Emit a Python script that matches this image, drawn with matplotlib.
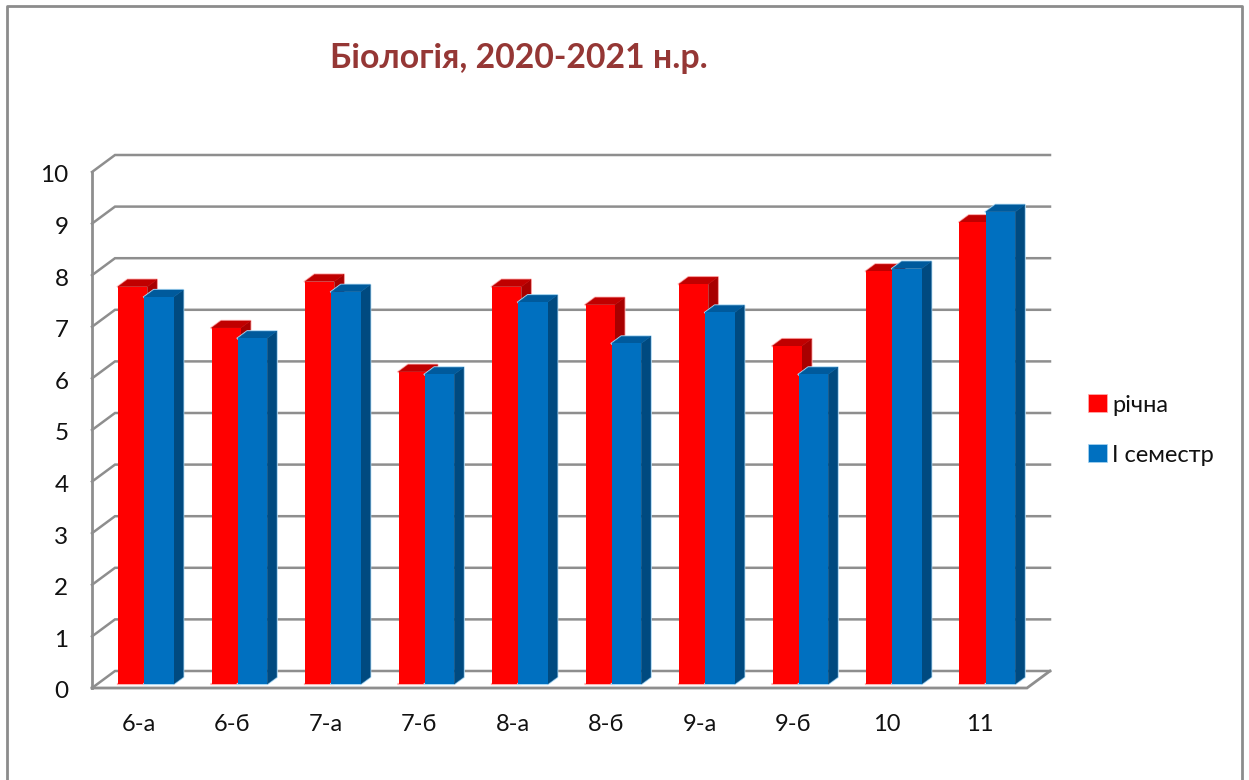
import numpy as np
from matplotlib import pyplot as plt
from matplotlib.patches import Patch
from matplotlib.lines import Line2D
from matplotlib.transforms import ScaledTranslation

plt.rcParams['font.family'] = ['Lato', 'DejaVu Sans']

classes = ['6-а', '6-б', '7-а', '7-б', '8-а', '8-б', '9-а', '9-б', '10', '11']
yearly = [7.7, 6.9, 7.8, 6.05, 7.7, 7.35, 7.75, 6.55, 8.0, 8.95]
semester = [7.5, 6.7, 7.6, 6.0, 7.4, 6.6, 7.2, 6.0, 8.05, 9.15]
y_ticks = list(range(11))

W, H = 1249, 780
# pixel layout of the front plane of the fake 3d box
left, right, bottom, top = 92, 1027, 688, 172
ppx = (right - left) / len(classes)
ppy = (bottom - top) / 10

fig = plt.figure(figsize=(W / 100, H / 100), dpi=100)
ax = fig.add_axes([left / W, 1 - bottom / H, (right - left) / W, (bottom - top) / H])
ax.set_xlim(0, len(classes))
ax.set_ylim(0, 10)
for s in ax.spines.values():
    s.set_visible(False)
ax.patch.set_alpha(0)

# depth of the walls and of the bars, in data units
wall_dx, wall_dy = 23 / ppx, 17 / ppy
bar_dx, bar_dy = 9.5 / ppx, 7 / ppy
base = 4 / ppy
bar_w = 29.4 / ppx
first = 26 / ppx
step = 26.3 / ppx

GRID = '#8e8e8e'
for t in y_ticks:
    ax.plot([0, wall_dx, len(classes) + wall_dx], [t, t + wall_dy, t + wall_dy],
            color=GRID, lw=1.8, clip_on=False, zorder=1, solid_joinstyle='miter')
ax.plot([0, 0], [0, 10], color=GRID, lw=2, clip_on=False, zorder=1)
ax.plot([0, len(classes), len(classes) + wall_dx], [0, 0, wall_dy],
        color=GRID, lw=2, clip_on=False, zorder=1, solid_joinstyle='miter')


def draw_bars(vals, offset, front, side, cap, halo, z):
    x0 = np.arange(len(vals)) + offset
    tops = np.array(vals) + base
    for i, (x, yt) in enumerate(zip(x0, tops)):
        xr = x + bar_w
        # soft outline round top, right and bottom, left edge stays clean
        ax.plot([x, x + bar_dx, xr + bar_dx, xr + bar_dx, xr, x],
                [yt, yt + bar_dy, yt + bar_dy, base + bar_dy, base, base],
                color=halo, lw=1.6, zorder=z, clip_on=False)
        ax.fill([xr, xr + bar_dx, xr + bar_dx, xr],
                [base, base + bar_dy, yt + bar_dy, yt],
                facecolor=side, edgecolor=side, lw=0.3, zorder=z + 1, clip_on=False)
        ax.fill([x, x + bar_dx, xr + bar_dx, xr],
                [yt, yt + bar_dy, yt + bar_dy, yt],
                facecolor=cap, edgecolor=cap, lw=0.3, zorder=z + 1, clip_on=False)
    ax.bar(x0, vals, width=bar_w, bottom=base, align='edge', color=front,
           linewidth=0, zorder=z + 2)


# red first, blue overlaps it
draw_bars(yearly, first, '#ff0000', '#a80000', '#c00000', '#ffb0b0', 2)
draw_bars(semester, first + step, '#0070c0', '#004a80', '#005a9c', '#a9d6f2', 6)

ax.set_xticks(np.arange(len(classes)) + 0.5)
ax.set_xticklabels(classes, fontsize=17, color='#111111')
ax.set_yticks(y_ticks)
ax.set_yticklabels([str(t) for t in y_ticks], fontsize=17.5, color='#111111')
ax.tick_params(axis='x', length=0, pad=19)
ax.tick_params(axis='y', length=0, pad=17)
# digits sit a little below the grid line in the original
shift = ScaledTranslation(0, -2 / 100, fig.dpi_scale_trans)
for lab in ax.get_yticklabels():
    lab.set_transform(lab.get_transform() + shift)

fig.text(330 / W, 1 - 68 / H, 'Біологія, 2020-2021 н.р.', fontsize=24.4,
         fontweight='bold', color='#953735', ha='left', va='baseline')

handles = [Patch(facecolor='#ff0000', edgecolor='#ffb0b0', lw=0.5),
           Patch(facecolor='#0070c0', edgecolor='#a9d6f2', lw=0.5)]
fig.legend(handles, ['річна', 'І семестр'], loc='center left',
           bbox_to_anchor=(1088 / W, 1 - 430 / H), frameon=False, fontsize=17,
           handlelength=0.8, handleheight=0.8, handletextpad=0.22,
           labelspacing=1.22, labelcolor='#111111', borderpad=0, borderaxespad=0)

# outer chart frame, open at the bottom
frame_x = [7 / W, 7 / W, 1242 / W, 1242 / W]
frame_y = [0, 1 - 6 / H, 1 - 6 / H, 0]
fig.add_artist(Line2D(frame_x, frame_y, color='#8c8c8c', lw=2, transform=fig.transFigure))

fig.savefig('out.png', dpi=100, facecolor='white')
